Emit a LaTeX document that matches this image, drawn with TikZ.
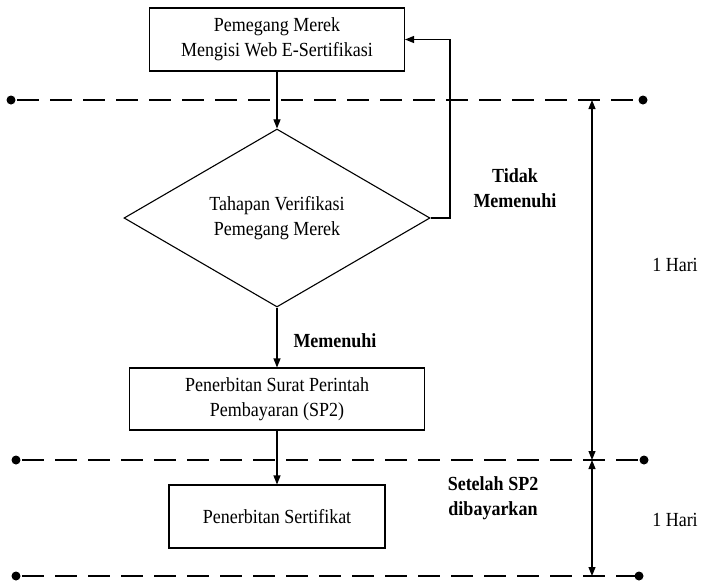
\documentclass[tikz,border=0pt]{standalone}
\usepackage{fontspec}
\setmainfont{Liberation Serif}[FakeStretch=0.9]
\usetikzlibrary{shapes.geometric,arrows.meta}

\tikzset{
  box/.style={rectangle, draw, align=center, inner sep=0pt},
  sepline/.style={dash pattern=on 22pt off 11pt, dash phase=27pt},
  lbl/.style={align=center, font=\fontsize{20}{25}\selectfont\bfseries}
}

\begin{document}
\begin{tikzpicture}[x=1pt, y=-1pt, line width=1.1pt,
  >={Triangle[length=9pt,width=7pt]},
  every node/.append style={font=\fontsize{20}{25}\selectfont}]
  \useasboundingbox (0,0) rectangle (702,582);

  % Nodes
  \node[box, minimum width=255pt, minimum height=63pt] (pm) at (277,39.5) {Pemegang Merek\\Mengisi Web E-Sertifikasi};
  \node[diamond, draw, align=center, inner sep=0pt, aspect=1.72,
        minimum width=306pt, minimum height=178pt] (ver) at (277,218) {Tahapan Verifikasi\\Pemegang Merek};
  \node[box, minimum width=295pt, minimum height=62pt] (sp) at (277,399) {Penerbitan Surat Perintah\\Pembayaran (SP2)};
  \node[box, minimum width=216pt, minimum height=63pt] (sert) at (277,516.5) {Penerbitan Sertifikat};

  % Labels
  \node[lbl] (tdk) at (515,188) {Tidak\\Memenuhi};
  \node[lbl] (mem) at (335,341) {Memenuhi};
  \node[lbl] (stl) at (493,498) {Setelah SP2\\dibayarkan};
  \node (hr1) at (675,265) {1 Hari};
  \node (hr2) at (675,520) {1 Hari};

  % Separators
  \coordinate (a1) at (11,100);  \coordinate (b1) at (643,100);
  \coordinate (a2) at (16,460);  \coordinate (b2) at (644,460);
  \coordinate (a3) at (16,576);  \coordinate (b3) at (639,576);
  \foreach \p/\q in {a1/b1, a2/b2, a3/b3} {
    \draw[sepline] (\p) -- (\q);
    \fill (\p) circle (4.5) (\q) circle (4.5);
  }

  % Edges
  \foreach \x/\y in {pm/ver, ver/sp, sp/sert}
    \draw[->] (\x) -- (\y);
  \coordinate (fb) at (450,218);
  \draw[->] (ver.east) -- (fb) |- (pm.east);

  % Durations
  \coordinate (t1) at (592,100);
  \coordinate (t2) at (592,460);
  \coordinate (t3) at (592,576);
  \draw[<->] (t1) -- (t2);
  \draw[<->] (t2) -- (t3);
\end{tikzpicture}
\end{document}
